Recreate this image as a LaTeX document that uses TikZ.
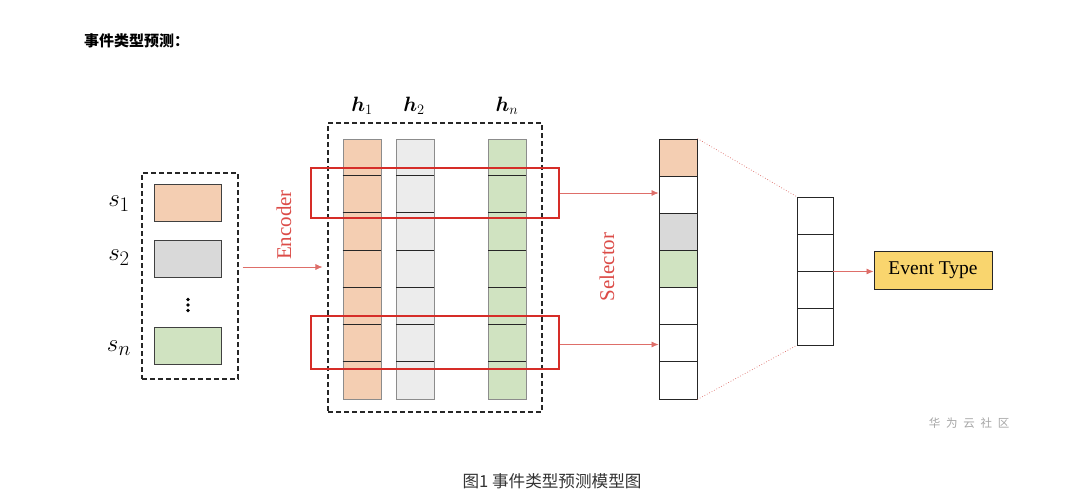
\documentclass[tikz,border=0pt]{standalone}
\usepackage{amsmath,bm}
\usepackage{fontspec}
\newfontfamily\cjk{Noto Sans CJK SC}
\newfontfamily\serifA{Liberation Serif}
\usetikzlibrary{arrows.meta,calc}
\definecolor{orangeF}{RGB}{244,206,178}
\definecolor{grayF}{RGB}{217,217,217}
\definecolor{lgrayF}{RGB}{236,236,236}
\definecolor{greenF}{RGB}{208,227,193}
\definecolor{redL}{RGB}{214,45,40}
\definecolor{redA}{RGB}{222,110,105}
\definecolor{yellowF}{RGB}{249,213,110}
\begin{document}
\begin{tikzpicture}[x=1pt,y=-1pt,
  dashbox/.style={draw=black!85, dashed, dash pattern=on 5pt off 3pt, line width=1.1pt, inner sep=0},
  srect/.style={draw=black!75, line width=0.9pt, minimum width=67pt, minimum height=37pt, inner sep=0},
  colbox/.style={draw=black!45, line width=0.9pt, minimum width=38pt, minimum height=260pt, inner sep=0},
  cell/.style={draw=black!85, line width=0.9pt, minimum width=38pt, minimum height=37.14pt, inner sep=0},
  rcell/.style={draw=black!85, line width=0.9pt, minimum width=36pt, minimum height=37pt, inner sep=0},
  redbox/.style={draw=redL, line width=1.8pt, inner sep=0},
  redarrow/.style={draw=redA, line width=0.7pt, -{Latex[length=7pt,width=6pt]}, color=redA},
  lbl/.style={font=\fontsize{30}{32}\selectfont},
  hlbl/.style={font=\fontsize{22}{24}\selectfont},
  rtext/.style={text=redL!85, font=\serifA\fontsize{21}{23}\selectfont, rotate=90},
]
\useasboundingbox (0,0) rectangle (1080,496);
\fill[white] (0,0) rectangle (1080,496);

% title
\node[anchor=west, font=\cjk\bfseries\fontsize{15}{17}\selectfont, inner sep=0] (title) at (84,41) {事件类型预测：};

% left box of sentence vectors
\node[dashbox, minimum width=96pt, minimum height=206pt] (lbox) at (190,276) {};
\node[srect, fill=orangeF] (s1) at (187.5,202.5) {};
\node[srect, fill=grayF] (s2) at (187.5,258.5) {};
\node[srect, fill=greenF] (sn) at (187.5,345.5) {};
\node[lbl] (l1) at (119,204) {$s_1$};
\node[lbl] (l2) at (119,258) {$s_2$};
\node[lbl] (ln) at (119,348) {$s_n$};
\node[inner sep=0] (dots) at (188,305) {\tikz[x=1pt,y=1pt]{\fill (0,0) circle (1.9pt) (0,-5.5) circle (1.9pt) (0,-11) circle (1.9pt);}};

% encoder
\coordinate (encS) at ([xshift=4pt,yshift=9pt]lbox.east);
\node[dashbox, minimum width=214pt, minimum height=289pt] (bigbox) at (435,267.5) {};
\draw[redarrow] (encS) -- ([xshift=-5pt]encS -| bigbox.west);
\node[rtext] (enc) at (284,225) {Encoder};

% hidden columns
\node[colbox, fill=orangeF] (c1) at (362,269) {};
\node[colbox, fill=lgrayF] (c2) at (415.5,269) {};
\node[colbox, fill=greenF] (cn) at (507.5,269) {};
\foreach \c in {c1,c2,cn}{
  \foreach \i in {1,...,6}{
    \draw[black!85, line width=0.9pt] ($(\c.north west)+(0,\i*37.14)$) -- ++(38,0);
  }
}
\node[hlbl] (h1) at (362,106) {$\bm{h}_1$};
\node[hlbl] (h2) at (414,106) {$\bm{h}_2$};
\node[hlbl] (hn) at (507,106) {$\bm{h}_n$};

% red selection boxes
\node[redbox, minimum width=248pt, minimum height=50pt] (rtop) at (435,193) {};
\node[redbox, minimum width=248pt, minimum height=53pt] (rbot) at (435,342.5) {};

% selector column
\foreach \i/\f in {1/orangeF,2/white,3/grayF,4/greenF,5/white,6/white,7/white}{
  \node[cell, fill=\f] (sel\i) at (678,{139+(\i-0.5)*37.14}) {};
}
\draw[redarrow] (rtop.east) -- (rtop.east -| sel2.west);
\draw[redarrow] ([yshift=-2pt]rbot.east) -- ([yshift=-2pt]rbot.east -| sel6.west);
\node[rtext] (selt) at (607,267) {Selector};

% right column
\foreach \i in {1,...,4}{
  \node[rcell, fill=white] (r\i) at (815,{197+(\i-0.5)*37}) {};
}
\draw[redA, dotted, line width=0.7pt] (sel1.north east) -- (r1.north west);
\draw[redA, dotted, line width=0.7pt] (sel7.south east) -- (r4.south west);

% event type
\node[draw=black!85, line width=1pt, fill=yellowF, minimum width=118pt, minimum height=38pt, inner sep=0, font=\serifA\fontsize{19.5}{22}\selectfont] (ev) at (933,270) {Event Type};
\draw[redarrow] (r2.south east) -- (r2.south east -| ev.west);

% watermark
\node[text=black!35, font=\cjk\fontsize{11.5}{13}\selectfont] (wm) at (969,423) {华\,\,\,为\,\,\,云\,\,\,社\,\,\,区};

% caption
\node[text=black!80, font=\cjk\fontsize{16.6}{18}\selectfont] (cap) at (552,481) {图1 事件类型预测模型图};
\end{tikzpicture}
\end{document}
